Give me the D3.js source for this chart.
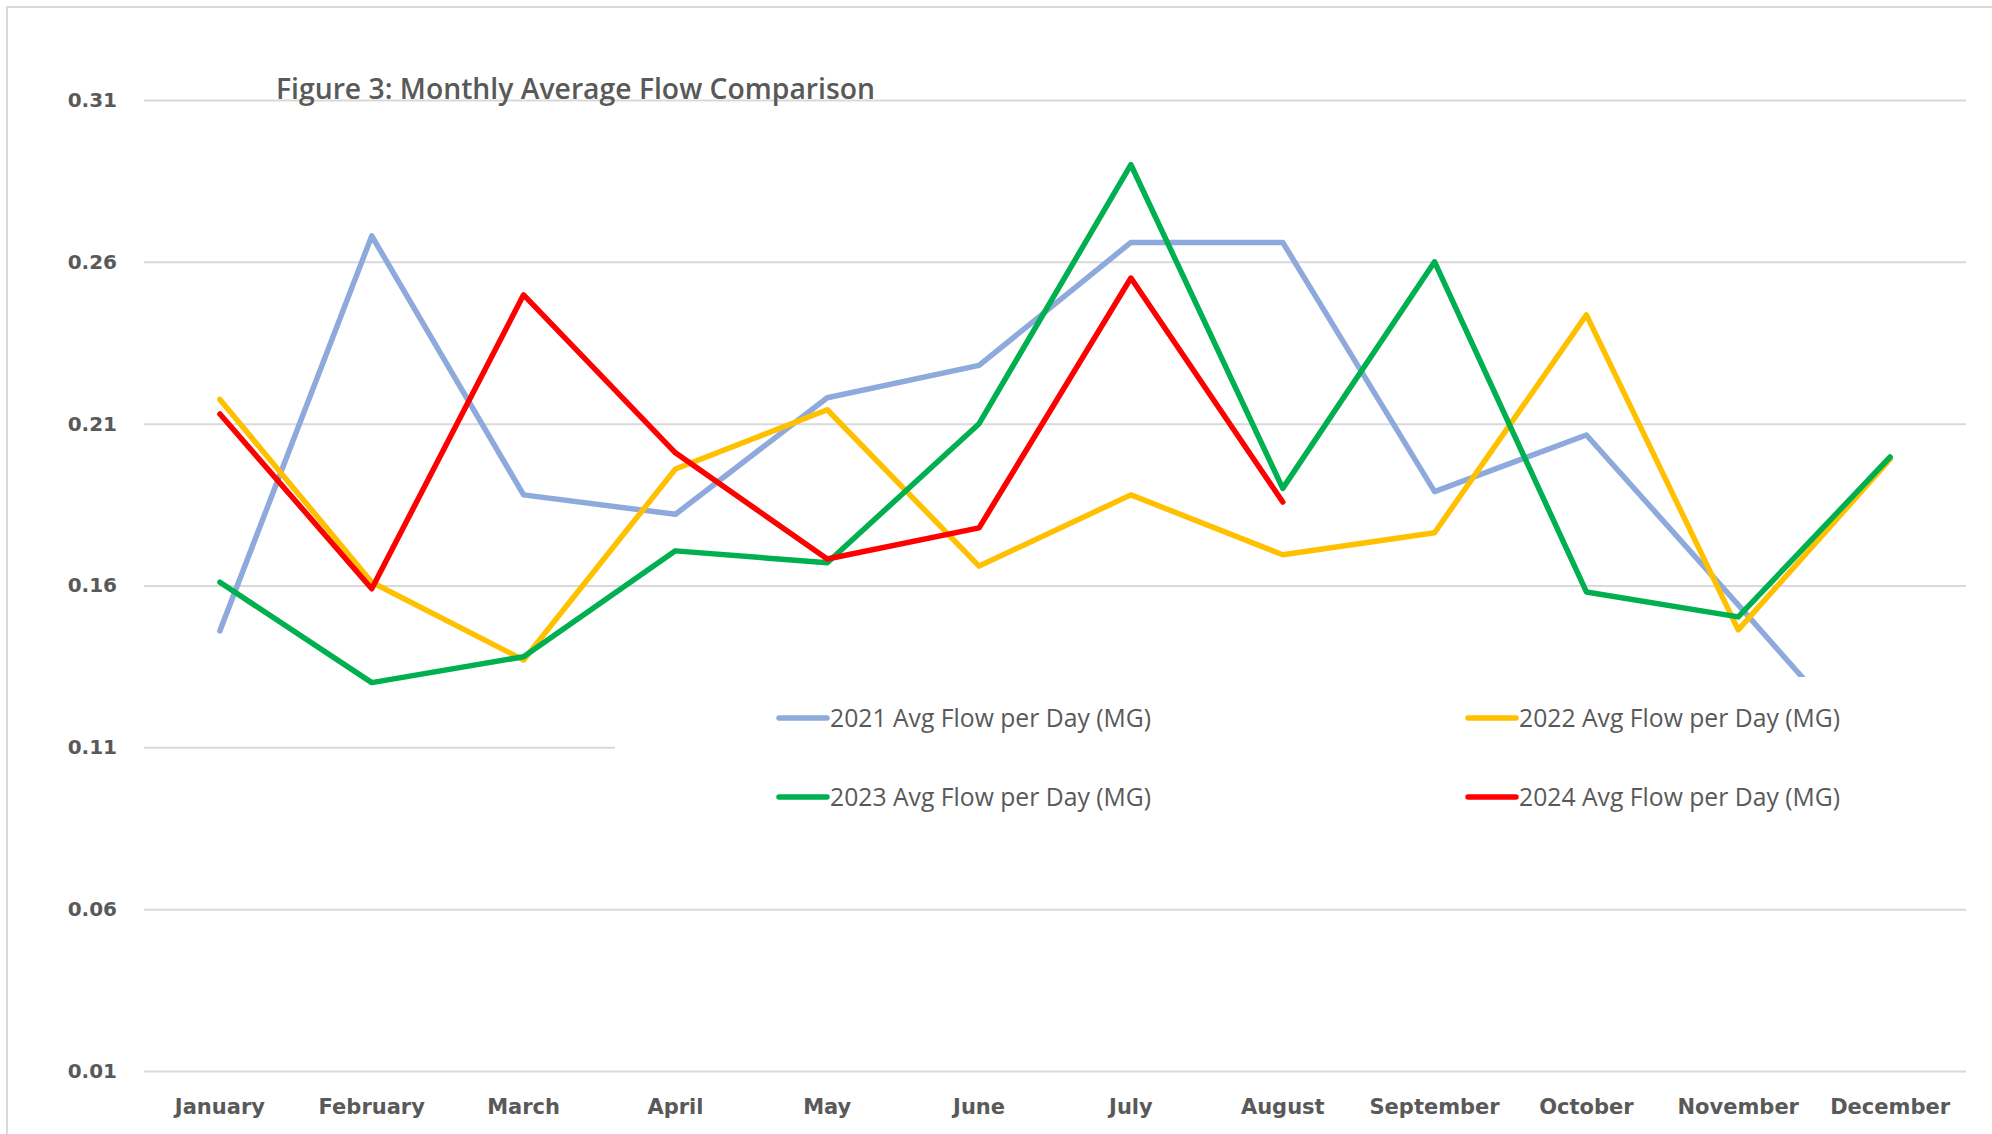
<!DOCTYPE html>
<html>
<head>
<meta charset="utf-8">
<script src="https://cdn.jsdelivr.net/npm/d3@7"></script>
<style>
  body { margin: 0; background: #fff; }
  svg { display: block; }
</style>
</head>
<body>
<div id="chart-area"></div>
<script>
// months on the x axis
const months = ['January','February','March','April','May','June','July','August','September','October','November','December'];

// avg flow per day (MG)
const flow2021 = [0.146, 0.268, 0.188, 0.182, 0.218, 0.228, 0.266, 0.266, 0.189, 0.2065, 0.154, 0.101];
const flow2022 = [0.2175, 0.161, 0.137, 0.196, 0.2143, 0.166, 0.188, 0.1695, 0.1763, 0.2436, 0.1463, 0.199];
const flow2023 = [0.161, 0.130, 0.138, 0.1707, 0.167, 0.210, 0.290, 0.190, 0.260, 0.158, 0.1503, 0.1997];
const flow2024 = [0.213, 0.159, 0.2498, 0.201, 0.1682, 0.1778, 0.255, 0.1858];

const seriesNames = ['2021 Avg Flow per Day (MG)','2022 Avg Flow per Day (MG)','2023 Avg Flow per Day (MG)','2024 Avg Flow per Day (MG)'];
const yTicks = [0.01, 0.06, 0.11, 0.16, 0.21, 0.26, 0.31];

const colors = ['#8EA9DB','#FFC000','#00B050','#FF0000'];
const series = [flow2021, flow2022, flow2023, flow2024].map((v,i)=>({name: seriesNames[i], values: v, color: colors[i]}));

const width = 1992, height = 1134;
const plotLeft = 144, plotRight = 1966, plotTop = 100, plotBottom = 1071;
const grey = '#595959';

const svg = d3.select('#chart-area').append('svg')
    .attr('width', width)
    .attr('height', height);

// chart border
svg.append('rect')
    .attr('x', 7).attr('y', 7)
    .attr('width', width + 20).attr('height', height + 20)
    .attr('fill', '#fff')
    .attr('stroke', '#d9d9d9')
    .attr('stroke-width', 2);

const x = d3.scaleBand().domain(months).range([plotLeft, plotRight]).padding(0);
const y = d3.scaleLinear().domain([0.01, 0.31]).range([plotBottom, plotTop]);

// gridlines + y labels
const yAxis = d3.axisLeft(y)
    .tickValues(yTicks)
    .tickSize(-(plotRight - plotLeft))
    .tickPadding(27)
    .tickFormat(d3.format('.2f'));

const gy = svg.append('g')
    .attr('transform', `translate(${plotLeft},0)`)
    .call(yAxis);
gy.select('.domain').remove();
gy.selectAll('.tick line')
    .attr('stroke', '#d9d9d9')
    .attr('stroke-width', 2);
gy.selectAll('.tick text')
    .attr('fill', grey)
    .style('font-family', '"DejaVu Sans", sans-serif')
    .style('font-weight', 'bold')
    .style('font-size', '20px');

// x labels
const xAxis = d3.axisBottom(x).tickSize(0).tickPadding(28);
const gx = svg.append('g')
    .attr('transform', `translate(0,${plotBottom})`)
    .call(xAxis);
gx.select('.domain').remove();
gx.selectAll('.tick text')
    .attr('fill', grey)
    .style('font-family', '"DejaVu Sans", sans-serif')
    .style('font-weight', 'bold')
    .style('font-size', '21px');

// lines
const line = d3.line()
    .x((d,i) => x(months[i]) + x.bandwidth()/2)
    .y(d => y(d));

svg.append('g').selectAll('path')
    .data(series)
    .join('path')
    .attr('d', d => line(d.values))
    .attr('fill', 'none')
    .attr('stroke', d => d.color)
    .attr('stroke-width', 5.5)
    .attr('stroke-linejoin', 'round')
    .attr('stroke-linecap', 'round');

// title
svg.append('text')
    .attr('x', 276)
    .attr('y', 99)
    .attr('fill', grey)
    .attr('textLength', 599)
    .attr('lengthAdjust', 'spacingAndGlyphs')
    .style('font-family', '"Open Sans", sans-serif')
    .style('font-weight', 600)
    .style('font-size', '29px')
    .text('Figure 3: Monthly Average Flow Comparison');

// legend box sits over the plot
svg.append('rect')
    .attr('x', 615).attr('y', 677)
    .attr('width', plotRight - 615 + 2).attr('height', 185)
    .attr('fill', '#fff');

const legendPos = [[777, 718], [1466, 718], [777, 797], [1466, 797]];
const lg = svg.append('g').selectAll('g')
    .data(series)
    .join('g')
    .attr('transform', (d,i) => `translate(${legendPos[i][0]},${legendPos[i][1]})`);

lg.append('line')
    .attr('x1', 2).attr('x2', 50)
    .attr('y1', 0).attr('y2', 0)
    .attr('stroke', d => d.color)
    .attr('stroke-width', 5.5)
    .attr('stroke-linecap', 'round');

lg.append('text')
    .attr('x', 53)
    .attr('y', 9)
    .attr('fill', grey)
    .attr('textLength', 321)
    .attr('lengthAdjust', 'spacingAndGlyphs')
    .style('font-family', '"Open Sans", sans-serif')
    .style('font-weight', 500)
    .style('font-size', '25px')
    .text(d => d.name);
</script>
</body>
</html>
